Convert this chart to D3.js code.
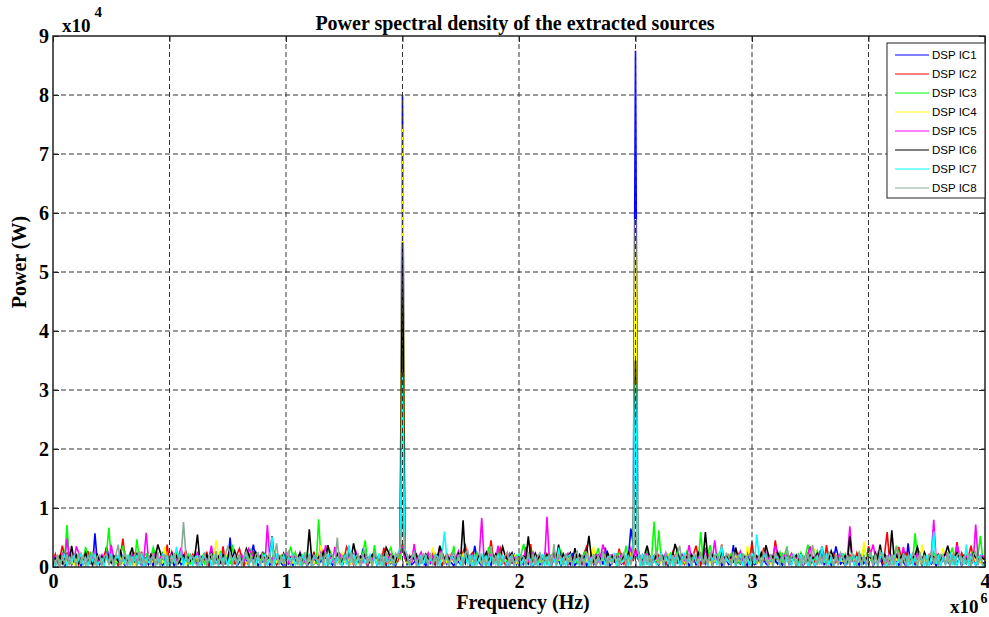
<!DOCTYPE html>
<meta charset="utf-8">
<title>Power spectral density</title>
<style>
  body { margin: 0; background: #fff; }
  svg text { font-family: "Liberation Serif", "Times New Roman", serif; font-weight: bold; }
  .leg text { font-family: "Liberation Sans", Arial, sans-serif; font-weight: normal; }
</style>
<div id="viz"></div>
<script src="https://cdnjs.cloudflare.com/ajax/libs/d3/7.8.5/d3.min.js"></script>
<script>

// sample spacing of every series, Hz (index i -> i * fStep)
var fStep = 10000;
// series values are in hundreds of watts
var unit = 100;

var names = ["DSP IC1", "DSP IC2", "DSP IC3", "DSP IC4", "DSP IC5", "DSP IC6", "DSP IC7", "DSP IC8"];
var colors = ["#0000ff", "#ff0000", "#00ff00", "#ffff00", "#ff00ff", "#000000", "#00ffff", "#88aa96"];

var xTicks = [0, 0.5e6, 1e6, 1.5e6, 2e6, 2.5e6, 3e6, 3.5e6, 4e6];
var yTicks = [0, 1e4, 2e4, 3e4, 4e4, 5e4, 6e4, 7e4, 8e4, 9e4];

var ic1 = [5,12,3,9,15,2,7,18,4,11,6,14,2,8,21,5,10,3,57,9,
  4,13,7,34,16,9,5,20,3,11,8,2,14,6,17,4,9,12,3,7,
  15,4,10,2,18,6,11,3,8,22,5,13,2,9,16,4,7,12,3,19,
  6,10,3,14,5,24,8,2,12,7,17,4,9,3,13,6,50,5,11,2,
  8,16,4,10,3,19,38,12,2,9,26,5,14,3,8,11,4,17,6,2,
  13,5,9,3,21,7,11,4,15,2,8,18,5,10,3,12,6,23,4,9,
  3,11,6,16,2,9,14,4,7,20,5,12,3,31,15,2,10,6,19,4,
  12,5,9,3,17,6,11,2,14,30,800,28,5,13,4,8,16,3,10,7,
  2,15,6,10,4,22,8,3,12,5,18,7,2,11,9,4,14,6,25,3,
  9,36,13,7,2,16,5,10,3,19,8,12,4,6,15,2,11,7,20,5,
  14,3,8,11,5,17,2,9,13,4,7,21,6,10,3,15,5,12,2,18,
  6,10,4,24,3,8,12,5,16,2,9,14,7,3,11,19,4,33,13,2,
  7,15,3,10,5,12,2,18,65,40,875,35,9,4,14,6,11,3,17,8,
  3,12,6,9,2,16,8,4,13,5,20,7,11,2,9,15,4,10,6,22,
  5,8,14,3,11,6,18,2,9,12,4,7,37,3,10,5,13,8,2,19,
  10,4,7,15,3,12,6,2,21,8,11,5,14,3,9,17,4,6,12,2,
  8,13,3,9,16,5,10,2,12,7,24,4,8,14,3,11,35,18,5,9,
  2,11,7,14,4,9,3,17,6,12,5,20,2,10,8,15,3,13,7,4,
  16,5,10,3,12,8,2,40,6,11,4,14,9,3,22,7,10,5,13,2,
  9,4,15,7,11,3,18,5,8,13,2,10,6,17,4,12,3,9,14,6,
  8];
var ic2 = [10,22,6,15,36,19,9,25,5,13,17,4,21,8,14,27,6,11,18,3,
  15,7,20,33,4,24,9,16,2,19,48,10,6,17,13,22,5,12,26,8,
  4,18,11,23,7,14,3,20,10,38,6,25,13,5,19,9,15,28,4,12,
  21,8,14,5,17,11,26,3,13,20,7,15,10,35,4,18,9,12,6,22,
  31,16,3,19,8,13,27,6,15,10,21,4,17,12,8,23,5,14,19,9,
  6,24,12,7,18,4,15,11,20,3,14,9,26,8,16,37,5,21,10,17,
  19,5,13,22,9,16,34,25,11,4,18,14,8,20,12,3,17,10,24,7,
  13,9,33,4,21,12,7,16,10,23,40,15,6,19,11,27,5,14,8,20,
  8,17,11,25,6,14,20,4,12,18,9,22,15,3,16,10,26,36,13,19,
  24,6,15,9,19,11,4,17,45,13,7,21,32,16,5,23,12,8,18,14,
  12,20,5,16,10,39,8,14,3,19,11,6,22,15,9,18,4,25,13,7,
  17,4,21,11,14,8,19,6,24,34,13,20,5,16,12,9,26,7,15,11,
  9,15,7,31,12,5,18,13,24,10,30,16,6,20,11,28,4,14,19,8,
  20,11,16,4,19,9,25,13,7,17,12,5,21,14,8,23,36,15,3,18,
  6,23,10,18,13,7,16,38,9,12,20,4,15,11,22,8,17,5,24,12,
  43,9,14,19,5,33,11,21,8,13,45,17,6,24,10,15,12,7,19,14,
  11,18,4,13,22,9,15,7,26,12,17,10,37,5,14,23,8,16,11,21,
  16,7,20,12,9,24,13,4,18,11,35,22,6,17,10,19,8,25,59,13,
  5,21,14,34,17,12,26,8,15,19,7,13,23,10,16,4,20,11,14,18,
  22,10,17,6,13,20,9,16,42,11,24,14,7,19,36,15,5,21,9,16,
  14];
var ic3 = [13,7,19,10,24,15,71,12,5,18,9,22,14,8,34,11,26,6,15,20,
  9,16,12,25,67,10,19,6,14,21,36,17,11,23,13,7,47,15,10,18,
  22,11,17,33,20,14,5,26,12,16,9,19,13,24,7,15,18,10,21,6,
  14,25,9,13,19,6,16,11,23,8,17,12,27,10,15,20,5,38,13,9,
  19,8,15,21,11,31,7,24,13,10,22,16,6,19,12,28,9,14,20,11,
  7,18,35,16,25,9,14,20,6,23,11,17,13,8,81,15,10,21,12,26,
  16,10,22,13,8,19,15,27,11,17,6,20,14,24,45,9,18,12,37,7,
  21,13,9,17,24,33,15,6,19,14,35,22,8,16,12,25,10,18,13,20,
  11,19,15,7,22,13,17,26,9,14,20,12,36,5,16,23,11,15,21,8,
  17,6,24,14,10,19,12,34,21,8,15,27,11,18,13,9,22,14,7,19,
  12,23,39,18,15,11,25,13,17,9,20,14,6,22,16,10,19,12,28,15,
  20,9,16,12,21,7,18,14,24,11,13,19,8,17,32,12,15,10,22,13,
  8,17,13,24,10,16,36,11,15,19,14,22,9,18,12,27,16,21,77,10,
  62,14,19,11,17,23,8,15,33,12,16,9,25,13,18,10,20,14,59,12,
  15,21,37,18,13,7,24,16,11,19,14,22,12,17,8,26,13,20,15,9,
  19,12,17,9,23,14,11,20,16,8,18,13,25,10,21,35,7,22,12,17,
  10,24,14,20,38,18,9,15,27,13,11,19,16,22,8,17,14,12,23,11,
  22,8,16,13,19,11,25,14,34,20,15,12,18,9,24,13,21,16,7,19,
  13,17,36,23,15,20,9,18,14,12,57,16,22,10,17,13,19,8,25,15,
  18,10,21,14,8,19,33,12,24,11,17,13,20,9,15,26,12,18,53,14,
  12];
var ic4 = [6,11,4,14,8,17,5,10,13,3,15,7,12,9,19,5,13,8,4,11,
  16,5,10,13,7,18,4,12,8,15,6,11,17,9,14,3,10,13,6,16,
  9,13,4,17,11,6,14,8,34,5,12,10,16,7,13,9,18,4,11,15,
  7,12,18,6,10,14,5,17,9,13,45,20,11,4,22,8,15,10,16,7,
  13,8,15,6,11,18,9,4,14,10,17,7,12,20,5,13,8,16,11,6,
  15,9,12,7,18,4,13,10,16,8,11,19,6,14,9,37,5,12,10,8,
  18,11,6,14,24,9,16,12,5,13,20,7,15,10,8,17,12,4,19,9,
  12,6,15,10,19,8,13,7,16,26,750,24,9,14,11,18,6,13,8,15,
  20,9,14,33,12,17,5,11,15,8,19,10,13,6,16,9,21,12,7,14,
  10,18,8,13,5,16,11,7,20,9,14,12,6,17,10,15,8,11,19,7,
  14,5,17,10,12,8,19,6,13,15,9,11,16,4,18,12,7,14,10,20,
  8,15,11,6,16,13,9,18,7,12,21,10,35,5,17,9,13,11,6,15,
  17,10,13,19,7,11,15,8,28,22,590,25,12,9,16,6,14,18,10,13,
  11,7,16,12,20,9,14,5,17,11,13,8,19,15,7,12,16,10,22,9,
  15,12,8,17,10,14,6,19,11,13,9,16,7,18,12,10,15,5,36,17,
  9,19,13,7,15,11,17,10,6,14,12,20,8,16,11,13,9,18,7,12,
  13,8,18,11,9,16,12,31,7,19,10,15,13,6,17,11,20,9,14,10,
  16,11,7,15,13,10,18,6,43,12,9,17,14,11,8,19,12,15,10,13,
  7,14,12,19,9,16,11,13,8,17,15,10,6,38,13,9,16,12,18,11,
  12,17,32,13,16,7,14,11,19,10,13,8,15,12,6,18,10,14,9,16,
  11];
var ic5 = [12,18,7,15,22,10,48,13,19,8,35,24,11,14,20,6,17,13,25,9,
  15,21,11,17,8,38,13,19,10,26,14,7,18,12,22,16,9,20,11,15,
  58,10,19,13,24,8,16,21,12,18,9,25,14,11,20,33,7,22,13,17,
  19,12,26,9,15,20,11,17,36,13,8,18,14,22,10,16,27,12,19,7,
  14,21,10,16,31,24,18,9,15,20,13,7,71,17,11,23,14,19,10,16,
  22,8,17,13,19,11,25,15,9,18,14,21,12,16,7,24,13,37,11,17,
  10,34,14,23,12,17,9,20,15,11,26,13,18,8,22,14,16,12,21,15,
  17,13,20,10,16,22,14,11,19,24,32,15,12,18,9,39,13,17,25,11,
  13,24,9,18,14,11,33,16,12,23,15,19,10,17,27,12,14,21,9,18,
  20,11,16,22,83,13,18,9,21,15,12,36,17,10,19,14,23,11,16,13,
  9,18,14,34,11,16,24,12,19,13,17,10,85,15,20,12,18,14,22,10,
  16,23,12,17,14,20,9,19,15,26,11,18,13,21,10,17,38,24,12,19,
  21,10,18,13,22,15,11,20,32,12,28,14,19,9,17,23,13,18,11,15,
  13,19,15,24,10,17,21,12,18,14,20,11,16,37,13,9,19,15,22,12,
  33,12,20,14,45,11,16,23,13,19,10,17,21,12,15,26,11,18,14,20,
  11,22,13,17,19,12,24,15,10,18,36,21,9,16,20,13,17,23,12,15,
  19,14,17,11,23,35,13,20,12,25,15,10,18,22,14,17,11,19,13,21,
  12,20,69,15,18,10,22,14,17,13,19,24,38,16,21,12,15,18,9,23,
  17,13,21,12,16,34,11,19,14,18,10,25,15,13,20,17,12,23,80,14,
  14,19,11,24,13,17,20,12,37,22,15,10,18,14,21,11,72,16,13,19,
  15];
var ic6 = [8,15,11,19,6,14,22,9,36,12,20,7,16,13,24,10,18,5,14,21,
  11,17,9,23,13,7,19,15,10,26,12,16,8,20,33,11,22,9,18,13,
  16,10,21,12,18,38,25,14,11,17,9,23,13,19,7,15,20,12,16,10,
  14,22,55,11,17,13,20,9,24,15,12,18,8,21,16,10,35,13,27,11,
  19,9,16,31,21,11,15,25,12,18,10,22,14,17,52,9,20,15,11,23,
  12,18,14,20,9,16,23,11,19,13,64,15,21,10,17,12,26,14,37,19,
  17,11,22,15,10,19,13,24,16,40,20,9,18,14,23,11,15,21,13,17,
  10,20,13,33,25,12,18,9,22,28,550,24,11,16,19,13,21,10,17,14,
  22,13,17,11,19,15,36,24,14,20,12,18,16,10,23,15,79,12,19,11,
  15,19,10,21,13,17,25,12,16,11,22,14,18,34,20,13,17,24,10,16,
  20,12,18,14,52,16,11,23,13,19,15,10,21,17,12,26,14,38,11,22,
  13,17,24,10,32,14,21,12,16,22,53,18,9,15,20,13,17,11,25,14,
  18,10,21,15,12,19,14,24,11,17,350,20,16,13,22,36,18,15,12,21,
  11,23,14,18,16,10,20,39,25,12,19,15,17,11,21,14,9,24,16,13,
  59,16,12,20,14,18,11,23,15,19,13,17,10,33,16,12,20,14,18,11,
  17,14,19,11,24,13,37,21,12,18,10,25,15,19,13,22,11,17,14,20,
  12,21,15,17,10,20,14,18,23,11,35,13,19,12,27,15,18,10,22,13,
  19,11,52,14,18,16,22,12,17,13,20,15,11,24,14,38,12,21,16,10,
  62,15,20,12,17,23,11,19,14,16,21,34,18,10,25,15,12,20,17,14,
  16,12,18,22,36,19,14,17,24,13,15,20,12,18,10,23,16,13,19,15,
  12];
var ic7 = [11,2,17,5,14,20,1,16,8,19,3,13,22,4,15,2,18,10,21,3,
  9,14,2,18,6,23,1,15,20,3,17,5,21,2,16,11,19,4,24,1,
  15,8,12,20,3,16,2,22,5,18,1,19,10,34,13,24,2,18,6,21,
  3,16,19,2,15,22,4,17,1,20,9,3,24,5,18,2,21,12,20,3,
  16,6,17,22,2,15,9,4,19,1,16,21,3,14,51,2,23,5,10,20,
  1,17,12,21,3,16,2,19,14,4,23,1,17,13,3,20,9,2,22,5,
  18,1,16,11,2,18,4,37,7,22,3,17,1,19,6,12,21,2,16,4,
  23,1,17,15,3,20,2,17,22,33,330,31,19,1,16,24,5,2,18,5,
  21,1,17,3,20,18,2,22,60,16,1,19,13,3,21,2,17,23,5,18,
  1,20,4,16,22,3,19,1,17,15,4,21,2,18,10,3,16,20,1,17,
  22,4,15,2,19,11,3,17,2,14,20,4,16,1,19,13,3,33,5,15,
  2,18,21,4,9,14,2,18,6,23,1,15,20,3,17,5,21,2,16,19,
  4,24,1,15,8,12,20,3,16,24,310,30,2,22,5,18,1,19,10,4,
  13,24,2,18,6,21,3,16,19,2,15,22,4,17,1,20,9,3,24,5,
  18,2,21,12,20,3,17,36,2,15,9,4,19,1,16,21,3,14,18,2,
  23,5,55,20,1,17,21,3,16,2,19,14,4,23,1,17,13,3,20,9,
  2,22,5,18,1,16,11,2,18,4,35,7,22,3,17,1,19,6,12,21,
  2,16,4,23,1,17,15,3,20,2,17,22,4,19,1,16,24,5,2,18,
  5,21,1,17,3,20,18,2,22,4,16,1,19,13,3,21,2,17,60,5,
  18,1,20,4,16,22,3,19,1,17,15,4,38,2,18,9,3,16,20,1,
  6];
var ic8 = [16,4,20,2,18,6,22,3,19,13,2,24,5,21,1,19,8,26,3,18,
  20,2,17,23,4,19,1,21,38,3,16,24,2,18,5,22,1,27,4,15,
  2,19,6,22,1,25,3,18,21,2,20,5,24,1,17,19,76,23,4,21,
  18,7,2,20,5,24,1,19,22,3,27,4,17,2,21,34,24,2,20,6,
  22,1,19,26,3,18,2,21,24,4,20,1,17,23,2,19,40,3,18,5,
  16,24,2,19,22,4,18,1,25,3,21,2,20,17,5,23,1,26,3,22,
  20,2,50,4,19,13,21,1,25,3,18,22,2,20,28,4,19,1,24,17,
  3,22,1,25,5,20,2,23,17,30,90,28,21,3,18,24,2,20,5,22,
  19,1,24,3,21,2,20,26,4,22,1,18,25,3,19,21,2,23,28,4,
  21,2,19,24,3,17,1,22,35,4,20,2,23,5,19,25,1,21,3,18,
  2,20,16,4,25,1,22,3,19,24,2,18,6,21,1,39,4,20,17,3,
  23,5,18,1,21,26,3,19,2,24,17,4,22,1,20,3,25,18,2,21,
  4,19,22,2,17,24,1,21,3,26,60,25,18,2,23,4,20,1,19,25,
  3,21,2,24,18,5,20,1,22,36,3,19,4,23,2,18,21,1,26,4,
  20,3,25,1,19,22,4,17,2,23,18,1,26,3,21,5,24,2,19,22,
  1,23,4,20,2,25,19,3,21,1,24,17,4,22,2,33,3,20,18,1,
  24,2,19,5,22,1,37,18,3,20,4,23,2,25,19,1,21,3,24,17,
  4,20,2,23,18,1,25,3,21,5,19,24,2,22,1,27,18,4,20,2,
  22,3,34,19,1,24,2,20,4,23,18,1,25,3,21,2,19,26,4,22,
  2,21,18,4,25,1,22,3,20,24,2,19,5,23,1,21,26,3,20,4,
  3];

var series = [ic1, ic2, ic3, ic4, ic5, ic6, ic7, ic8];

var width = 989, height = 617;
var mLeft = 53, mRight = 985, mTop = 36, mBottom = 567;

var svg = d3.select("#viz").append("svg")
  .attr("width", width)
  .attr("height", height);

var x = d3.scaleLinear().domain([0, 4e6]).range([mLeft, mRight]);
var y = d3.scaleLinear().domain([0, 9e4]).range([mBottom, mTop]);

svg.append("clipPath").attr("id", "clip")
  .append("rect")
  .attr("x", mLeft).attr("y", mTop)
  .attr("width", mRight - mLeft).attr("height", mBottom - mTop);

var line = d3.line()
  .x(function(d, i) { return x(i * fStep); })
  .y(function(d) { return y(d * unit); });

var plot = svg.append("g").attr("clip-path", "url(#clip)");
series.forEach(function(s, k) {
  plot.append("path")
    .attr("d", line(s))
    .attr("fill", "none")
    .attr("stroke", colors[k])
    .attr("stroke-width", 1.6);
});

// grid (drawn over the data, as in the original)
var grid = svg.append("g").attr("stroke", "#333").attr("stroke-width", 1)
  .attr("stroke-dasharray", "5,3");
grid.selectAll(".gx").data(xTicks.slice(1, -1)).enter().append("line")
  .attr("x1", d => x(d)).attr("x2", d => x(d))
  .attr("y1", mTop).attr("y2", mBottom);
grid.selectAll(".gy").data(yTicks.slice(1, -1)).enter().append("line")
  .attr("x1", mLeft).attr("x2", mRight)
  .attr("y1", d => y(d)).attr("y2", d => y(d));

// axes with inward ticks
var xAxis = svg.append("g").attr("transform", "translate(0," + mBottom + ")")
  .call(d3.axisBottom(x).tickValues(xTicks).tickFormat(d => d / 1e6).tickSizeInner(-6).tickSizeOuter(0).tickPadding(7));
var xTop = svg.append("g").attr("transform", "translate(0," + mTop + ")")
  .call(d3.axisTop(x).tickValues(xTicks).tickFormat("").tickSizeInner(-6).tickSizeOuter(0));
var yAxis = svg.append("g").attr("transform", "translate(" + mLeft + ",0)")
  .call(d3.axisLeft(y).tickValues(yTicks).tickFormat(d => d / 1e4).tickSizeInner(-6).tickSizeOuter(0).tickPadding(4));
var yRight = svg.append("g").attr("transform", "translate(" + mRight + ",0)")
  .call(d3.axisRight(y).tickValues(yTicks).tickFormat("").tickSizeInner(-6).tickSizeOuter(0));

[xAxis, xTop, yAxis, yRight].forEach(function(a) {
  a.select(".domain").remove();
  a.selectAll("line").attr("stroke", "#222");
  a.selectAll("text").attr("font-size", 20).attr("fill", "#000")
    .attr("font-family", "Liberation Serif, serif").attr("font-weight", "bold");
});

svg.append("rect")
  .attr("x", mLeft).attr("y", mTop)
  .attr("width", mRight - mLeft).attr("height", mBottom - mTop)
  .attr("fill", "none").attr("stroke", "#222").attr("stroke-width", 1.5);

// titles
svg.append("text").attr("x", 515).attr("y", 30).attr("text-anchor", "middle")
  .attr("font-size", 20).text("Power spectral density of the extracted sources");
svg.append("text").attr("x", 523).attr("y", 609).attr("text-anchor", "middle")
  .attr("font-size", 20).text("Frequency (Hz)");
svg.append("text").attr("transform", "translate(26,262) rotate(-90)")
  .attr("text-anchor", "middle").attr("font-size", 20).text("Power (W)");

// exponent labels
var e4 = svg.append("text").attr("x", 62).attr("y", 32).attr("font-size", 19);
e4.append("tspan").text("x10");
e4.append("tspan").attr("dx", 4).attr("dy", -15).attr("font-size", 15).text("4");
var e6 = svg.append("text").attr("x", 950).attr("y", 613).attr("font-size", 19);
e6.append("tspan").text("x10");
e6.append("tspan").attr("dx", 2).attr("dy", -10).attr("font-size", 14).text("6");

// legend
var leg = svg.append("g").attr("class", "leg");
leg.append("rect").attr("x", 887).attr("y", 43).attr("width", 98).attr("height", 155)
  .attr("fill", "#fff").attr("stroke", "#222").attr("stroke-width", 1);
var items = leg.selectAll(".item").data(names).enter().append("g")
  .attr("transform", (d, i) => "translate(0," + (55 + i * 19) + ")");
items.append("line").attr("x1", 895).attr("x2", 929)
  .attr("stroke", (d, i) => colors[i]).attr("stroke-width", 1.2);
items.append("text").attr("x", 932).attr("y", 4).attr("font-size", 11.5).text(d => d);

</script>
